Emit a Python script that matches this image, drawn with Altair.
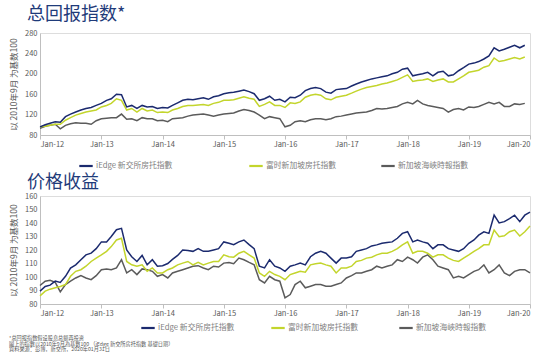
import altair as alt
import pandas as pd

# ---------------- data ----------------
series_names = ["iEdge 新交所房托指數", "富时新加坡房托指數", "新加坡海峽時報指數"]
colors = ["#1b2a6e", "#c3d52c", "#5b5b5b"]

# Total return index, monthly Jan-2012 .. Dec-2019
tr_iedge = [96, 100, 103, 106, 105, 116, 121, 125, 129, 132, 134, 138,
            142, 148, 151, 160, 159, 135, 138, 132, 138, 135, 136, 132,
            134, 133, 138, 143, 148, 150, 149, 151, 153, 150, 155, 157,
            161, 163, 164, 166, 168, 165, 161, 148, 151, 156, 148, 150,
            145, 154, 153, 158, 167, 171, 173, 171, 164, 162, 169, 170,
            171, 176, 180, 184, 187, 190, 192, 194, 196, 200, 203, 209,
            211, 196, 198, 200, 203, 196, 203, 205, 196, 198, 206, 212,
            219, 221, 224, 229, 235, 251, 245, 248, 252, 256, 251, 256]
tr_ftse = [96, 97, 99, 101, 101, 109, 114, 119, 122, 125, 127, 129,
           135, 138, 142, 151, 148, 129, 132, 125, 132, 127, 129, 124,
           125, 124, 129, 132, 136, 138, 138, 139, 140, 138, 142, 144,
           148, 148, 149, 152, 155, 152, 150, 136, 140, 145, 138, 138,
           134, 143, 142, 145, 154, 158, 160, 158, 151, 149, 154, 156,
           158, 162, 166, 170, 173, 175, 177, 180, 182, 185, 188, 193,
           198, 185, 187, 188, 190, 185, 188, 190, 184, 184, 190, 196,
           203, 205, 207, 213, 216, 231, 224, 226, 229, 232, 229, 233]
tr_sti = [93, 97, 99, 101, 92, 99, 102, 104, 103, 103, 101, 108,
          112, 113, 114, 114, 121, 111, 112, 108, 114, 112, 112, 108,
          109, 106, 112, 113, 114, 117, 119, 120, 121, 119, 117, 119,
          121, 122, 123, 127, 130, 128, 125, 119, 112, 116, 114, 112,
          96, 99, 106, 108, 106, 110, 112, 112, 110, 112, 116, 117,
          119, 121, 123, 124, 125, 128, 132, 131, 132, 134, 136, 141,
          144, 141, 148, 141, 138, 136, 134, 132, 125, 130, 132, 129,
          135, 134, 136, 140, 144, 141, 144, 136, 136, 141, 140, 142]

# Price return index, monthly Jan-2012 .. Jan-2020
pr_iedge = [89.5, 93, 94, 97, 96, 100.5, 106.6, 109, 112.8, 116.4, 117.7, 121,
            126, 126, 130, 135, 136, 120, 115, 111.5, 116, 109, 112.8, 108,
            108.4, 110, 113, 116, 120, 119.6, 119, 121, 119, 119, 120, 121,
            126, 125, 124, 126, 127.4, 124, 121, 108, 106.7, 112.8, 108, 106.7,
            104.2, 108, 109, 110.3, 109, 115, 117.6, 119, 117.6, 114, 110.3, 114,
            114, 115, 119, 120, 121, 123, 123.8, 125, 125.5, 126, 128.7, 132.3,
            133.5, 126, 127.4, 126, 125, 121, 123.8, 123.8, 121, 120, 119, 121,
            125, 127.4, 131, 133.5, 132.3, 145.8, 140, 141, 143.3, 145.8, 141, 145.8,
            148]
pr_ftse = [86, 89.5, 91, 92, 93, 94.4, 100.5, 104.2, 105.4, 108, 111.5, 114,
           116.4, 119, 122.5, 127.4, 128.7, 111.5, 109, 108, 109, 104.2, 106.7, 103,
           103, 105.4, 106.7, 109, 110.3, 111.5, 109, 110.8, 109, 110.3, 111.5, 111.5,
           116.4, 115, 114.7, 117.6, 119, 116.4, 114, 103, 100.5, 104.2, 101.8, 100.5,
           98, 101.8, 103, 104.2, 103.5, 109, 109.8, 110.3, 109, 108, 103, 106.7,
           106.7, 108, 111.5, 112.3, 114, 114.7, 116.4, 117.6, 117.6, 119, 121, 123.8,
           126, 117.6, 119, 119, 117.6, 114.7, 116.4, 116.4, 114, 112.3, 111.5, 114,
           116.4, 119, 121, 123.8, 123.8, 134.8, 129.9, 130.5, 133.5, 134.8, 130.4, 133.5,
           137.7]
pr_sti = [93.7, 96.9, 97.6, 96, 89, 94.4, 96.9, 99.3, 101, 99.3, 98, 101,
          105.4, 106, 105.4, 106.7, 112.8, 103, 105.4, 101.8, 106, 105.4, 104.2, 100.5,
          101.8, 99.3, 103, 104.2, 105.4, 106.7, 108, 108.4, 106.7, 105.4, 108, 107.4,
          110.3, 110.8, 109.8, 114, 112.8, 110.8, 109, 98, 95.6, 100.5, 98, 96.9,
          84.6, 87, 94.4, 96.9, 92, 93.2, 94.4, 94.4, 93.2, 93.2, 94.4, 95.6,
          99.3, 101, 103, 103, 104.2, 105.4, 108, 106.7, 108, 109, 112.8, 111.5,
          114.7, 112.8, 110.3, 114.7, 116.4, 112.8, 108, 106.7, 105.4, 99.3, 100.5, 99.3,
          101.8, 104.2, 105.4, 109, 103, 105.4, 109, 103, 101, 104.2, 105.4, 105.4,
          103]

footnote = ["*总回报指数假设股息总额再投资",
            "圖上的指數以2010年9月為基數100 （iEdge 新交所房托指數 基礎日期）",
            "資料來源：彭博，新交所，2020年01月31日"]

title_top = "总回报指数*"
title_bottom = "价格收益"
y_title = "以 2010年9月 为基数100"

FONT = "Noto Sans CJK SC"
NAVY_T = "#1f3b7a"
GREY_T = "#595959"
AXIS_C = "#bfbfbf"
year_ticks = [alt.DateTime(year=y, month=1, date=1) for y in range(2012, 2021)]


def series_df(name, vals):
    dates = pd.date_range("2012-01-01", periods=len(vals), freq="MS").strftime("%Y-%m-%d")
    return pd.DataFrame({"date": dates, "value": vals, "series": name})


def make_title(text, offset):
    return alt.TitleParams(text, anchor="start", frame="group", fontSize=18,
                           color=NAVY_T, font=FONT, fontWeight="normal",
                           dx=-13, offset=offset)


def one_line(name, col, vals, ydom, ystep, lx, ly):
    x = alt.X("date:T",
              scale=alt.Scale(domain=[alt.DateTime(year=2012, month=1, date=1),
                                      alt.DateTime(year=2020, month=1, date=1)]),
              axis=alt.Axis(format="%b-%y", values=year_ticks, title=None, grid=False,
                            ticks=True, tickSize=4, domainColor=AXIS_C, tickColor=AXIS_C,
                            labelFontSize=7.5, labelColor=GREY_T, labelFont=FONT,
                            labelPadding=1))
    y = alt.Y("value:Q",
              scale=alt.Scale(domain=ydom, nice=False, zero=False),
              axis=alt.Axis(values=list(range(ydom[0], ydom[1] + 1, ystep)),
                            title=y_title, grid=False, ticks=False,
                            domainColor=AXIS_C, labelFontSize=7.5,
                            labelColor=GREY_T, labelFont=FONT, labelPadding=3,
                            titleFontSize=8.5, titleFontWeight="normal",
                            titleColor=GREY_T, titleFont=FONT, titlePadding=6))
    color = alt.Color("series:N",
                      scale=alt.Scale(domain=[name], range=[col]),
                      legend=alt.Legend(orient="none", legendX=lx, legendY=ly,
                                        title=None, symbolType="stroke", symbolSize=180,
                                        symbolStrokeWidth=2.2, labelFontSize=7.8,
                                        labelColor="#7f7f7f", labelFont=FONT,
                                        labelOffset=2))
    return alt.Chart(series_df(name, vals)).mark_line(strokeWidth=1.5).encode(
        x=x, y=y, color=color)


def panel(vals_list, ydom, ystep, height, lxs, ly):
    layers = []
    # draw grey first, navy last (on top)
    for i in [2, 1, 0]:
        layers.append(one_line(series_names[i], colors[i], vals_list[i], ydom, ystep,
                               lxs[i], ly))
    return alt.layer(*layers).resolve_scale(color="independent").properties(
        width=490, height=height)


top = panel([tr_iedge, tr_ftse, tr_sti], [80, 280], 40, 102, [38, 208, 340], 125).properties(
    title=make_title(title_top, 5))

bot_lines = panel([pr_iedge, pr_ftse, pr_sti], [80, 160], 10, 108, [100, 230, 358], 124)

note = alt.Chart(pd.DataFrame({"k": [0]})).mark_text(
    align="left", baseline="top", fontSize=5.2, lineHeight=5.7, color=GREY_T, font=FONT
).encode(x=alt.value(-31), y=alt.value(140), text=alt.value(footnote))

bot = alt.layer(bot_lines, note).properties(
    width=490, height=108, title=make_title(title_bottom, 0))

chart = alt.vconcat(top, bot, spacing=1).resolve_scale(color="independent").properties(
    padding={"left": 8, "top": 5, "right": 10, "bottom": 0}
).configure_view(stroke=None).configure(background="white")

chart.save("out.html", embed_options={"renderer": "svg", "actions": False})
